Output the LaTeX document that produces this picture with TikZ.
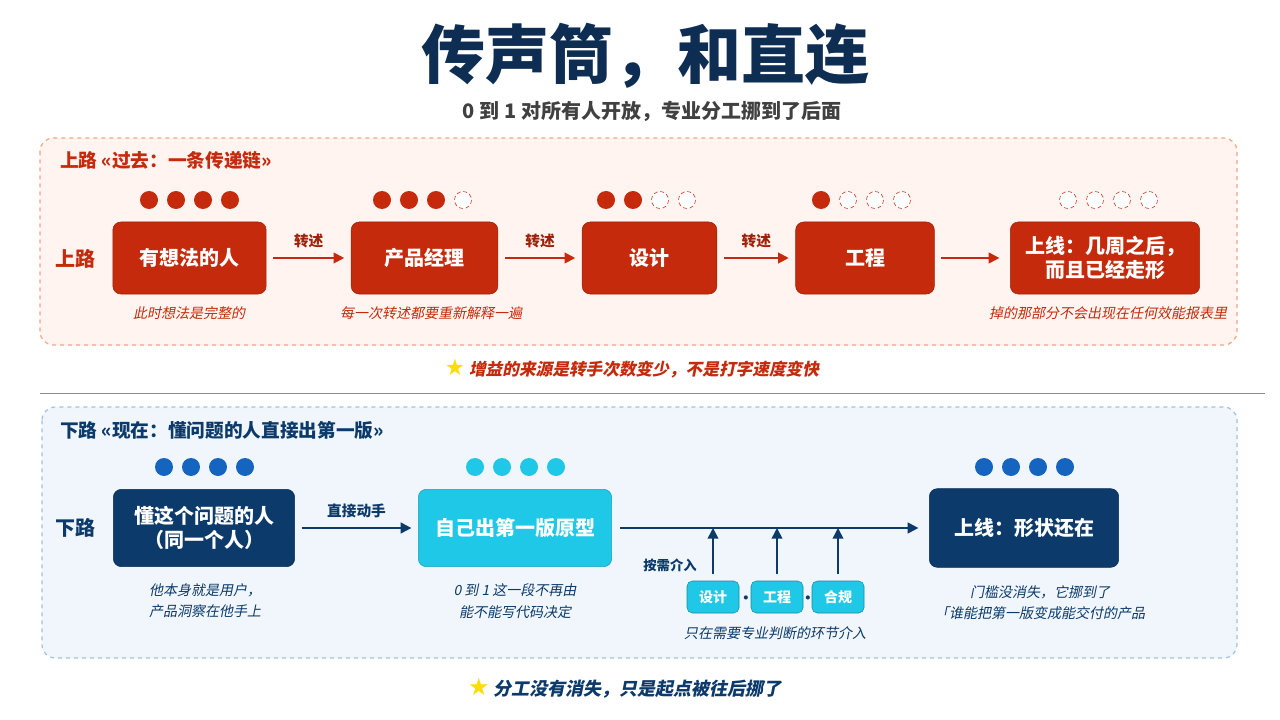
\documentclass[tikz,border=0pt]{standalone}
\usepackage{fontspec}
\setmainfont{Noto Sans CJK SC}
\newfontfamily\slfont{Noto Sans CJK SC}[FakeSlant=0.2]
\newfontfamily\symfont{DejaVu Sans}
\usetikzlibrary{positioning, arrows.meta}

\definecolor{upred}{HTML}{C42A0B}
\definecolor{upline}{HTML}{F4A582}
\definecolor{upfill}{HTML}{FFF4EF}
\definecolor{navy}{HTML}{0B3A6B}
\definecolor{dnblue}{HTML}{1565C0}
\definecolor{dncyan}{HTML}{1EC8E6}
\definecolor{dnline}{HTML}{9CC3E6}
\definecolor{dnfill}{HTML}{F1F6FC}
\definecolor{titlec}{HTML}{0D2D52}

\newcommand{\scorerow}[4]{% x, y, filled, colour
  \foreach \i in {1,...,4} {
    \ifnum\i>#3
      \draw[#4, densely dashed, fill=white] (#1+\i*27-67,#2) circle (8.5);
    \else
      \fill[#4] (#1+\i*27-67,#2) circle (9);
    \fi
  }}

\begin{document}
\begin{tikzpicture}[
  x=0.75pt, y=-0.75pt,
  every node/.style={inner sep=0},
  upbox/.style={draw=upred!80!black, fill=upred, rounded corners=6pt, text=white, font=\bfseries\fontsize{15}{18}\selectfont, align=center},
  dnbox/.style={draw=navy!80!black, fill=navy, rounded corners=6pt, text=white, font=\bfseries\fontsize{15}{18}\selectfont, align=center},
  cybox/.style={draw=dncyan!80!black, fill=dncyan, rounded corners=6pt, text=white, font=\bfseries\fontsize{15}{18}\selectfont, align=center},
  smallbox/.style={draw=dncyan!70!black, fill=dncyan, rounded corners=4pt, text=white, font=\bfseries\fontsize{10.5}{12}\selectfont, minimum width=39pt, minimum height=24pt},
  note/.style={font=\slfont\fontsize{10.5}{16}\selectfont, align=center},
  uparrow/.style={-{Triangle[length=8pt,width=8pt]}, upred, line width=1.5pt},
  dnarrow/.style={-{Triangle[length=8pt,width=8pt]}, navy, line width=1.5pt},
  arrowlabel/.style={font=\bfseries\fontsize{11}{13}\selectfont}
]
\useasboundingbox[fill=white] (0,0) rectangle (1280,720);

% title
\node[text=titlec, font=\bfseries\fontsize{48}{54}\selectfont] (title) at (645,56) {传声筒，和直连};
\node[text=black!75, font=\bfseries\fontsize{15}{18}\selectfont] (subtitle) at (652,111) {0 到 1 对所有人开放，专业分工挪到了后面};

% upper road
\draw[upline, dashed, fill=upfill, rounded corners=10pt, line width=0.9pt] (40,138) rectangle (1237,345);
\node[anchor=west, text=upred, font=\bfseries\fontsize{14}{17}\selectfont] (uphead) at (60,160) {上路 «过去：一条传递链»};
\node[text=upred, font=\bfseries\fontsize{15}{18}\selectfont] (uproad) at (75,259) {上路};

\node[upbox, minimum width=115pt, minimum height=54pt] (idea) at (189.5,258) {有想法的人};
\node[upbox, minimum width=110pt, minimum height=54pt] (pm) at (424.5,258) {产品经理};
\node[upbox, minimum width=101pt, minimum height=54pt] (design) at (649.5,258) {设计};
\node[upbox, minimum width=104pt, minimum height=54pt] (eng) at (865,258) {工程};
\node[upbox, minimum width=142pt, minimum height=54pt] (launch) at (1105,258) {上线：几周之后，\\而且已经走形};

\scorerow{189}{200}{4}{upred}
\scorerow{422}{200}{3}{upred}
\scorerow{646}{200}{2}{upred}
\scorerow{861}{200}{1}{upred}
\scorerow{1108}{200}{0}{upred}

\draw[uparrow] ([xshift=5pt]idea.east) -- node[above=7pt, arrowlabel, text=upred!80!black] {转述} ([xshift=-5pt]pm.west);
\draw[uparrow] ([xshift=5pt]pm.east) -- node[above=7pt, arrowlabel, text=upred!80!black] {转述} ([xshift=-5pt]design.west);
\draw[uparrow] ([xshift=5pt]design.east) -- node[above=7pt, arrowlabel, text=upred!80!black] {转述} ([xshift=-5pt]eng.west);
\draw[uparrow] ([xshift=5pt]eng.east) -- ([xshift=-8pt]launch.west);

\node[note, text=upred] (n1) at (189,313) {此时想法是完整的};
\node[note, text=upred] (n2) at (431,313) {每一次转述都要重新解释一遍};
\node[note, text=upred] (n3) at (1108,313) {掉的那部分不会出现在任何效能报表里};

\node[text=upred, font=\slfont\bfseries\fontsize{12.5}{15}\selectfont] (upstar) at (632,369) {{\symfont\fontsize{17}{17}\selectfont\color{yellow!80!orange}★}\ 增益的来源是转手次数变少，不是打字速度变快};

\draw[black!45, line width=0.7pt] (40,393) -- (1265,393);

% lower road
\draw[dnline, dashed, fill=dnfill, rounded corners=10pt, line width=0.9pt] (42,407) rectangle (1237,658);
\node[anchor=west, text=navy, font=\bfseries\fontsize{14}{17}\selectfont] (dnhead) at (60,430) {下路 «现在：懂问题的人直接出第一版»};
\node[text=navy, font=\bfseries\fontsize{15}{18}\selectfont] (dnroad) at (75,528) {下路};

\node[dnbox, minimum width=136pt, minimum height=58pt] (expert) at (204,528) {懂这个问题的人\\（同一个人）};
\node[cybox, minimum width=145pt, minimum height=58pt] (proto) at (515,528) {自己出第一版原型};
\node[dnbox, minimum width=142pt, minimum height=59pt] (shipped) at (1024,528) {上线：形状还在};

\scorerow{204}{467}{4}{dnblue}
\scorerow{515}{467}{4}{dncyan}
\scorerow{1024}{467}{4}{dnblue}

\draw[dnarrow] ([xshift=5pt]expert.east) -- node[above=7pt, arrowlabel, text=navy] {直接动手} ([xshift=-5pt]proto.west);
\draw[dnarrow] ([xshift=6pt]proto.east) -- ([xshift=-8pt]shipped.west);

\node[smallbox] (sdesign) at (713,597) {设计};
\node[smallbox] (seng) at (777,597) {工程};
\node[smallbox] (scomp) at (838,597) {合规};
\node[text=navy, font=\bfseries\fontsize{11}{13}\selectfont] at (746,600) {·};
\node[text=navy, font=\bfseries\fontsize{11}{13}\selectfont] at (808,600) {·};
\draw[dnarrow, line width=1.2pt] ([yshift=5pt]sdesign.north) -- (sdesign.north |- proto.east);
\draw[dnarrow, line width=1.2pt] ([yshift=5pt]seng.north) -- (seng.north |- proto.east);
\draw[dnarrow, line width=1.2pt] ([yshift=5pt]scomp.north) -- (scomp.north |- proto.east);
\node[text=navy, font=\bfseries\fontsize{10}{12}\selectfont] (ondemand) at (670,565) {按需介入};
\node[note, text=navy] (n7) at (775,633) {只在需要专业判断的环节介入};

\node[note, text=navy] (n4) at (205,601) {他本身就是用户，\\产品洞察在他手上};
\node[note, text=navy] (n5) at (515,601) {0 到 1 这一段不再由\\能不能写代码决定};
\node[note, text=navy] (n6) at (1040,603) {门槛没消失，它挪到了\\「谁能把第一版变成能交付的产品};

\node[text=navy, font=\slfont\bfseries\fontsize{13.5}{16}\selectfont] (dnstar) at (625,688) {{\symfont\fontsize{18}{18}\selectfont\color{yellow!80!orange}★}\ 分工没有消失，只是起点被往后挪了};
\end{tikzpicture}
\end{document}
